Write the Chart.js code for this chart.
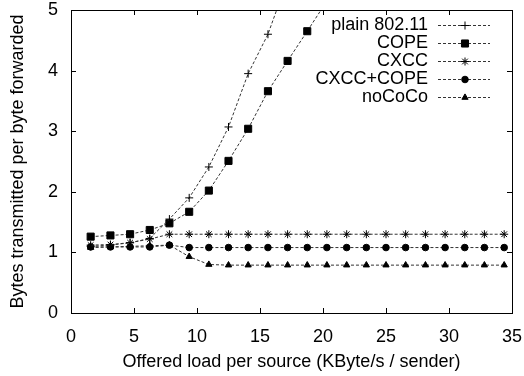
<!DOCTYPE html>
<html>
<head>
<meta charset="utf-8">
<script src="https://cdn.jsdelivr.net/npm/chart.js@4"></script>
<style>
  body { margin: 0; background: #fff; }
  canvas { display: block; }
</style>
</head>
<body>
<canvas id="myChart" width="524" height="376"></canvas>
<script>
// offered load per source (KByte/s / sender)
const loads = [1.56, 3.13, 4.69, 6.25, 7.81, 9.38, 10.94, 12.5, 14.06, 15.63, 17.19,
               18.75, 20.31, 21.88, 23.44, 25, 26.56, 28.13, 29.69, 31.25, 32.81, 34.38];

// bytes transmitted per byte forwarded
const plain80211 = [1.10, 1.12, 1.16, 1.23, 1.55, 1.90, 2.41, 3.07, 3.95, 4.60, 5.50];
const cope = [1.26, 1.28, 1.30, 1.37, 1.48, 1.67, 2.02, 2.51, 3.04, 3.66, 4.16, 4.65, 5.15];
const cxcc = [1.12, 1.13, 1.16, 1.22, 1.30, 1.30, 1.30, 1.30, 1.30, 1.30, 1.30,
              1.30, 1.30, 1.30, 1.30, 1.30, 1.30, 1.30, 1.30, 1.30, 1.30, 1.30];
const cxccCope = [1.09, 1.09, 1.09, 1.09, 1.12, 1.08, 1.08, 1.08, 1.08, 1.08, 1.08,
                  1.08, 1.08, 1.08, 1.08, 1.08, 1.08, 1.08, 1.08, 1.08, 1.08, 1.08];
const noCoCo = [1.08, 1.09, 1.10, 1.11, 1.12, 0.93, 0.80, 0.79, 0.79, 0.79, 0.79,
                0.79, 0.79, 0.79, 0.79, 0.79, 0.79, 0.79, 0.79, 0.79, 0.79, 0.79];

const seriesNames = ['plain 802.11', 'COPE', 'CXCC', 'CXCC+COPE', 'noCoCo'];
const seriesValues = [plain80211, cope, cxcc, cxccCope, noCoCo];
const pointStyles = ['cross', 'rect', 'star', 'circle', 'triangle'];
const pointSizes = [4, 5, 4, 3.3, 3.6];

const xTicks = [0, 5, 10, 15, 20, 25, 30, 35];
const yTicks = [0, 1, 2, 3, 4, 5];

const FONT = '"Liberation Sans", Arial, Helvetica, sans-serif';
Chart.defaults.font.family = FONT;
Chart.defaults.font.size = 18;
Chart.defaults.color = '#000';

const lineColor = '#333';

const datasets = seriesValues.map((vals, i) => ({
    label: seriesNames[i],
    data: vals.map((v, j) => ({ x: loads[j], y: v })),
    borderColor: lineColor,
    borderWidth: 1,
    borderDash: [3, 2],
    pointStyle: pointStyles[i],
    pointRadius: pointSizes[i],
    pointBorderWidth: 1,
    pointBorderColor: '#000',
    pointBackgroundColor: '#000',
    fill: false,
    tension: 0,
    clip: 0
}));

// frame, inward ticks on all sides, and the key in the top right
const framePlugin = {
    id: 'frame',
    afterDatasetsDraw(chart) {
        const ctx = chart.ctx;
        const a = chart.chartArea;
        const xs = chart.scales.x, ys = chart.scales.y;
        ctx.save();
        ctx.strokeStyle = '#000';
        ctx.lineWidth = 1;
        ctx.setLineDash([]);
        ctx.strokeRect(Math.round(a.left) + 0.5, Math.round(a.top) + 0.5,
            Math.round(a.right - a.left), Math.round(a.bottom - a.top));
        const tl = 5;
        ctx.beginPath();
        xTicks.forEach(t => {
            const px = Math.round(xs.getPixelForValue(t)) + 0.5;
            ctx.moveTo(px, a.bottom); ctx.lineTo(px, a.bottom - tl);
            ctx.moveTo(px, a.top); ctx.lineTo(px, a.top + tl);
        });
        yTicks.forEach(t => {
            const py = Math.round(ys.getPixelForValue(t)) + 0.5;
            ctx.moveTo(a.left, py); ctx.lineTo(a.left + tl, py);
            ctx.moveTo(a.right, py); ctx.lineTo(a.right - tl, py);
        });
        ctx.stroke();

        // key
        ctx.font = '18px ' + FONT;
        ctx.textAlign = 'right';
        ctx.textBaseline = 'middle';
        seriesNames.forEach((name, i) => {
            const y = 25 + i * 18;
            ctx.fillStyle = '#000';
            ctx.fillText(name, 428, y);
            ctx.strokeStyle = lineColor;
            ctx.setLineDash([3, 2]);
            ctx.beginPath();
            ctx.moveTo(438, y + 0.5);
            ctx.lineTo(490, y + 0.5);
            ctx.stroke();
            ctx.setLineDash([]);
            ctx.strokeStyle = '#000';
            ctx.fillStyle = '#000';
            ctx.lineWidth = 1;
            Chart.helpers.drawPoint(ctx, {
                pointStyle: pointStyles[i],
                radius: pointSizes[i],
                rotation: 0,
                borderWidth: 1
            }, 465, y + 0.5);
        });
        ctx.restore();
    }
};

new Chart(document.getElementById('myChart'), {
    type: 'line',
    data: { datasets },
    options: {
        responsive: false,
        animation: false,
        layout: { padding: { left: 0, right: 12, top: 10, bottom: 0 } },
        plugins: {
            legend: { display: false },
            tooltip: { enabled: false }
        },
        scales: {
            x: {
                type: 'linear',
                min: 0,
                max: 35,
                afterFit: s => { s.height = 63; s.paddingLeft = 0; s.paddingRight = 0; },
                afterBuildTicks: s => { s.ticks = xTicks.map(v => ({ value: v })); },
                grid: { display: false, drawTicks: false },
                border: { display: false },
                ticks: { padding: 13, maxRotation: 0 },
                title: {
                    display: true,
                    text: 'Offered load per source (KByte/s / sender)',
                    padding: { top: 0, bottom: 3 }
                }
            },
            y: {
                type: 'linear',
                min: 0,
                max: 5,
                afterFit: s => { s.width = 71; s.paddingTop = 0; s.paddingBottom = 0; },
                afterBuildTicks: s => { s.ticks = yTicks.map(v => ({ value: v })); },
                grid: { display: false, drawTicks: false },
                border: { display: false },
                ticks: { padding: 13 },
                title: {
                    display: true,
                    text: 'Bytes transmitted per byte forwarded',
                    padding: { top: 7, bottom: 0 }
                }
            }
        }
    },
    plugins: [framePlugin]
});
</script>
</body>
</html>
